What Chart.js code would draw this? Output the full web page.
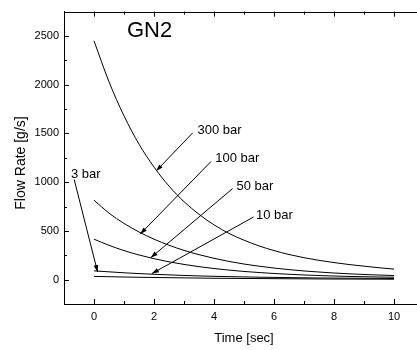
<!DOCTYPE html>
<html>
<head>
<meta charset="utf-8">
<script src="https://cdn.jsdelivr.net/npm/chart.js@4/dist/chart.umd.min.js"></script>
<style>
  html, body { margin: 0; padding: 0; background: #fff; overflow: hidden; }
  #wrap { width: 417px; height: 350px; overflow: hidden; }
</style>
</head>
<body>
<div id="wrap"><canvas id="c" width="440" height="350"></canvas></div>
<script>
// time axis [sec] and flow rate [g/s] per tank pressure
const time = [0, 0.5, 1, 1.5, 2, 2.5, 3, 3.5, 4, 4.5, 5, 5.5, 6, 6.5, 7, 7.5, 8, 8.5, 9, 9.5, 10];
const bar300 = [2450, 2030, 1680, 1390, 1155, 960, 800, 670, 562, 474, 405, 346, 298, 258, 225, 198, 175, 155, 138, 122, 108];
const bar100 = [815, 682, 577, 489, 415, 353, 300, 256, 219, 187, 160, 138, 119, 103, 89, 78, 68, 60, 53, 47, 42];
const bar50 = [415, 352, 298, 253, 215, 183, 156, 133, 114, 98, 84, 73, 63, 55, 48, 42, 37, 33, 30, 27, 25];
const bar10 = [90, 80, 70, 62, 55, 49, 43, 38, 34, 31, 28, 25, 23, 21, 19, 17, 16, 15, 14, 13, 12];
const bar3 = [33, 30, 27, 24, 22, 20, 18, 16, 14, 13, 12, 11, 10, 9, 8, 7, 6, 6, 5, 5, 4];

const xTicks = [0, 2, 4, 6, 8, 10];
const xMinor = [-1, 1, 3, 5, 7, 9, 11];
const yTicks = [0, 500, 1000, 1500, 2000, 2500];
const yMinor = [-250, 250, 750, 1250, 1750, 2250, 2750];

// callout labels: text, label anchor, arrow start, arrow tip (data units)
const labels = [
  { text: "300 bar", at: [3.45, 1536], from: [3.29, 1506], to: [2.07, 1114] },
  { text: "100 bar", at: [4.04, 1245], from: [3.90, 1212], to: [1.54, 467] },
  { text: "50 bar", at: [4.75, 954], from: [4.62, 934], to: [1.89, 224] },
  { text: "10 bar", at: [5.40, 660], from: [5.32, 643], to: [1.93, 62] },
  { text: "3 bar", at: [-0.77, 1084], from: [-0.66, 1027], to: [0.12, 78] },
];
const gasLabel = { text: "GN2", at: [1.1, 2555] };

const FONT = "'Liberation Sans', Arial, sans-serif";
const series = [bar300, bar100, bar50, bar10, bar3];

const frame = {
  id: "frame",
  afterDraw(chart) {
    const { ctx, chartArea: a, scales: { x, y } } = chart;
    ctx.save();
    ctx.strokeStyle = "#000";
    ctx.lineWidth = 1;
    // top border
    ctx.beginPath();
    ctx.moveTo(a.left, Math.round(a.top) + 0.5);
    ctx.lineTo(a.right, Math.round(a.top) + 0.5);
    ctx.stroke();
    // inward ticks
    const tick = (v, len) => {
      const px = Math.round(x.getPixelForValue(v)) + 0.5;
      ctx.beginPath();
      ctx.moveTo(px, a.bottom); ctx.lineTo(px, a.bottom - len);
      ctx.moveTo(px, a.top); ctx.lineTo(px, a.top + len);
      ctx.stroke();
    };
    xTicks.forEach((v) => tick(v, 5));
    xMinor.forEach((v) => tick(v, 3));
    const ytick = (v, len) => {
      const py = Math.round(y.getPixelForValue(v)) + 0.5;
      ctx.beginPath();
      ctx.moveTo(a.left, py); ctx.lineTo(a.left + len, py);
      ctx.stroke();
    };
    yTicks.forEach((v) => ytick(v, 5));
    yMinor.forEach((v) => ytick(v, 3));

    // callouts
    ctx.fillStyle = "#000";
    ctx.font = "13px " + FONT;
    ctx.textBaseline = "middle";
    labels.forEach((l) => {
      ctx.fillText(l.text, x.getPixelForValue(l.at[0]), y.getPixelForValue(l.at[1]));
      const x0 = x.getPixelForValue(l.from[0]), y0 = y.getPixelForValue(l.from[1]);
      const x1 = x.getPixelForValue(l.to[0]), y1 = y.getPixelForValue(l.to[1]);
      const ang = Math.atan2(y1 - y0, x1 - x0);
      ctx.beginPath();
      ctx.moveTo(x0, y0); ctx.lineTo(x1, y1);
      ctx.stroke();
      const hl = 7, hw = 2.3;
      ctx.beginPath();
      ctx.moveTo(x1, y1);
      ctx.lineTo(x1 - hl * Math.cos(ang) + hw * Math.sin(ang), y1 - hl * Math.sin(ang) - hw * Math.cos(ang));
      ctx.lineTo(x1 - hl * Math.cos(ang) - hw * Math.sin(ang), y1 - hl * Math.sin(ang) + hw * Math.cos(ang));
      ctx.closePath();
      ctx.fill();
    });
    ctx.font = "22px " + FONT;
    ctx.fillText(gasLabel.text, x.getPixelForValue(gasLabel.at[0]), y.getPixelForValue(gasLabel.at[1]));

    // y axis title
    ctx.font = "14px " + FONT;
    ctx.textAlign = "center";
    ctx.translate(21, 163);
    ctx.rotate(-Math.PI / 2);
    ctx.fillText("Flow Rate [g/s]", 0, 0);
    ctx.restore();
  },
};

new Chart(document.getElementById("c"), {
  type: "scatter",
  data: {
    datasets: series.map((s) => ({
      data: time.map((t, i) => ({ x: t, y: s[i] })),
      showLine: true,
      borderColor: "#000",
      borderWidth: 1,
      pointRadius: 0,
      cubicInterpolationMode: "monotone",
    })),
  },
  options: {
    responsive: false,
    animation: false,
    events: [],
    layout: { padding: { top: 5, right: 16, left: 0, bottom: 0 } },
    plugins: { legend: { display: false }, tooltip: { enabled: false } },
    scales: {
      x: {
        type: "linear",
        min: -1,
        max: 11,
        grid: { display: false, drawTicks: false },
        border: { color: "#000", width: 1 },
        afterBuildTicks: (s) => { s.ticks = xTicks.map((v) => ({ value: v })); },
        afterFit: (s) => { s.height = 46; },
        ticks: { color: "#000", padding: 6, font: { family: FONT, size: 11 }, callback: (v) => String(v) },
        title: { display: true, text: "Time [sec]", color: "#000", padding: { top: 0, bottom: 4 }, font: { family: FONT, size: 13 } },
      },
      y: {
        type: "linear",
        min: -250,
        max: 2750,
        grid: { display: false, drawTicks: false },
        border: { color: "#000", width: 1 },
        afterBuildTicks: (s) => { s.ticks = yTicks.map((v) => ({ value: v })); },
        afterFit: (s) => { s.width = 64; },
        ticks: { color: "#000", padding: 5, font: { family: FONT, size: 11 }, callback: (v) => String(v) },
      },
    },
  },
  plugins: [frame],
});
</script>
</body>
</html>
